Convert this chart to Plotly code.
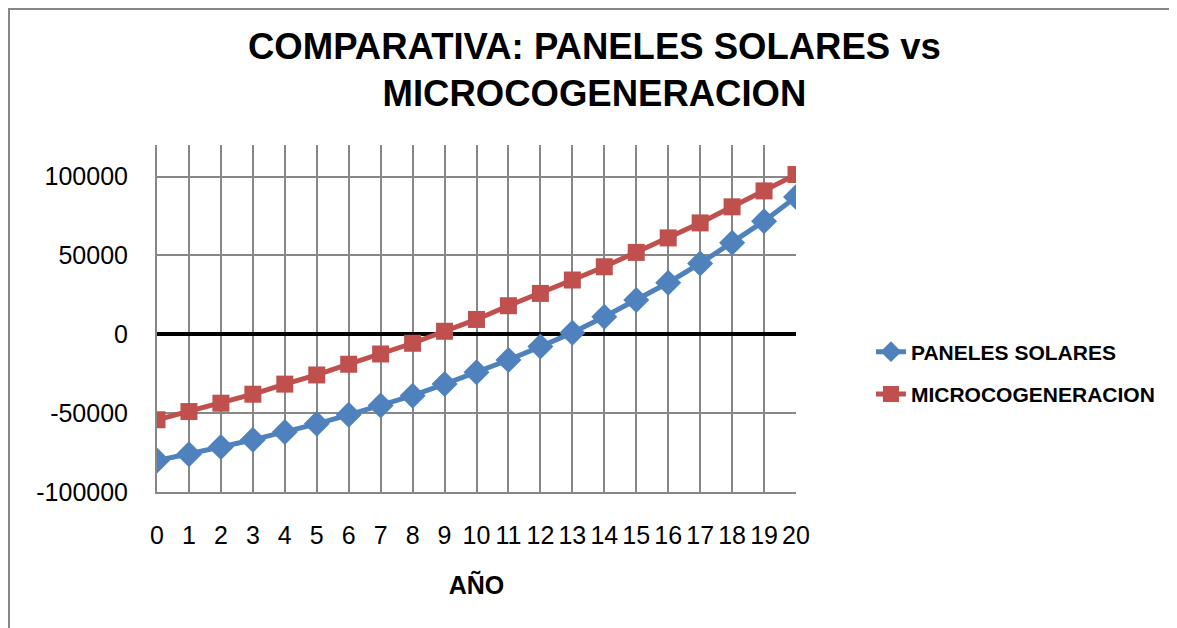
import plotly.graph_objects as go

# -------------------------
# DATOS
# -------------------------
anios = list(range(0, 21))

paneles_solares = [
    -80000, -76000, -71500, -66900, -62000, -56800, -51100, -45200, -38900, -31600,
    -24100, -16300, -7800, 1000, 11100, 21700, 32700, 44900, 58000, 71700, 87100,
]

microcogeneracion = [
    -54200, -49000, -43700, -38000, -31600, -25800, -19000, -12500, -5700, 1900,
    9400, 18100, 25900, 34400, 42800, 51900, 61100, 70600, 80800, 90900, 101300,
]

y_ticks = [-100000, -50000, 0, 50000, 100000]

AZUL = "#4F81BD"
ROJO = "#C0504D"
GRIS = "#878787"
FUENTE = "Liberation Sans, Arial, sans-serif"

# -------------------------
# FIGURA
# -------------------------
fig = go.Figure()

fig.add_trace(go.Scatter(
    x=anios,
    y=paneles_solares,
    name="PANELES SOLARES",
    legendgroup="a",
    mode="lines+markers",
    line=dict(color=AZUL, width=5),
    marker=dict(symbol="diamond", size=20, color=AZUL),
))

fig.add_trace(go.Scatter(
    x=anios,
    y=microcogeneracion,
    name="MICROCOGENERACION",
    legendgroup="b",
    mode="lines+markers",
    line=dict(color=ROJO, width=5),
    marker=dict(symbol="square", size=17, color=ROJO),
))

# borde del area del grafico
fig.add_shape(
    type="rect", xref="paper", yref="paper",
    x0=-0.2316, x1=1.7, y0=-0.5, y1=1.392,
    line=dict(color="#878787", width=2), layer="below",
)

# titulo (dos lineas, centrado)
fig.add_annotation(
    text="<b>COMPARATIVA: PANELES SOLARES vs<br>MICROCOGENERACION</b>",
    xref="paper", yref="paper",
    x=0.6854, y=1.216,
    xanchor="center", yanchor="middle",
    showarrow=False,
    font=dict(size=36.5, color="black", family=FUENTE),
)

fig.update_layout(
    width=1177,
    height=628,
    paper_bgcolor="white",
    plot_bgcolor="white",
    margin=dict(l=149, r=389, t=137, b=144),
    font=dict(family=FUENTE, color="black", size=25),
    legend=dict(
        x=1.1173, xanchor="left",
        y=0.343, yanchor="middle",
        font=dict(size=21, color="black", family=FUENTE, weight="bold"),
        traceorder="grouped",
        tracegroupgap=12,
    ),
    showlegend=True,
)

fig.update_xaxes(
    title=dict(text="<b>AÑO</b>", font=dict(size=25), standoff=28),
    range=[0, 20],
    tickmode="array",
    tickvals=anios,
    ticktext=[str(a) for a in anios],
    showgrid=True,
    gridcolor=GRIS,
    gridwidth=2,
    showline=True,
    linecolor=GRIS,
    linewidth=2,
    zeroline=False,
    ticks="",
    ticklabelstandoff=20,
    tickfont=dict(size=25),
)

fig.update_yaxes(
    range=[-100000, 120000],
    tickmode="array",
    tickvals=y_ticks,
    ticktext=[str(v) for v in y_ticks],
    showgrid=True,
    gridcolor=GRIS,
    gridwidth=2,
    showline=True,
    linecolor=GRIS,
    linewidth=2,
    zeroline=True,
    zerolinecolor="black",
    zerolinewidth=4,
    ticks="",
    ticklabelstandoff=22,
    tickfont=dict(size=25),
)

fig.write_html("out.html")
